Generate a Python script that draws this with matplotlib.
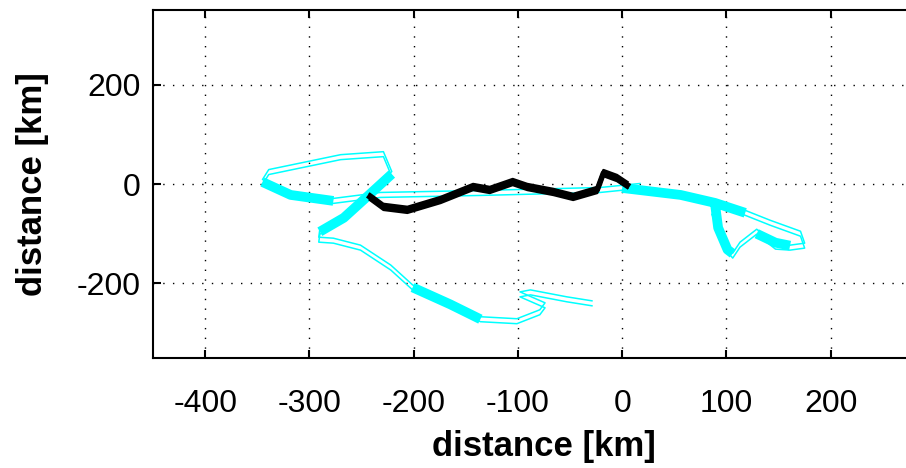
import numpy as np
import matplotlib.pyplot as plt

# cyan track, west part (km)
west_x = [17, -21, -136, -232, -277, -318, -345, -339, -270, -229, -221, -246, -267,
          -290, -291, -277, -251, -222, -201, -165, -136, -101, -79, -74, -98, -88, -53, -29]
west_y = [-4, -12, -18, -22, -34, -22, 4, 24, 54, 60, 20, -28, -68,
          -96, -112, -114, -128, -168, -208, -242, -272, -276, -258, -244, -222, -218, -232, -240]

# cyan track, east part (km)
east_x = [0, 56, 89, 118, 142, 171, 175, 161, 147, 129, 113, 106, 101, 92, 86]
east_y = [-8, -22, -38, -58, -78, -100, -124, -128, -126, -96, -122, -144, -132, -88, -56]

# dense (overlapping) stretches of the cyan track
thick_x = [-277, -318, -345, np.nan, -221, -246, -267, -290, np.nan, -201, -165, -136, np.nan,
           0, 56, 89, 118, np.nan, 89, 92, 101, 106, np.nan, 129, 147, 161]
thick_y = [-34, -22, 4, np.nan, 20, -28, -68, -96, np.nan, -208, -242, -272, np.nan,
           -8, -22, -38, -58, np.nan, -40, -88, -132, -140, np.nan, -100, -118, -124]

# black track (km)
black_x = [-242, -229, -206, -174, -143, -127, -105, -91, -66, -47, -24, -18, -5, 5]
black_y = [-26, -46, -52, -32, -6, -12, 4, -6, -16, -26, -12, 22, 12, -2]

xticks = [-400, -300, -200, -100, 0, 100, 200]
yticks = [-200, 0, 200]

plt.rcParams['font.family'] = ['Liberation Sans', 'DejaVu Sans']
plt.rcParams['axes.unicode_minus'] = False
fig = plt.figure(figsize=(9.06, 4.68), dpi=100)
ax = fig.add_axes([153 / 906, 110 / 468, 782 / 906, 348 / 468])

cyan = '#00ffff'
for d in (-5, 5):
    ax.plot(west_x, np.array(west_y) + d, color=cyan, lw=1.1)
    ax.plot(east_x, np.array(east_y) + d, color=cyan, lw=1.1)
ax.plot(thick_x, thick_y, color=cyan, lw=7, solid_capstyle='butt')

for d in (-6, 6):
    ax.plot(black_x, np.array(black_y) + d, color='black', lw=1.8)
ax.plot(black_x, black_y, color='black', lw=4)

ax.set_xlim(-450, 300)
ax.set_ylim(-350, 350)
ax.set_xticks(xticks)
ax.set_yticks(yticks)
ax.grid(True, color='black', linestyle=(0, (1, 6)), lw=1)
ax.tick_params(direction='in', length=6, width=1.5, top=True, labelsize=23)
ax.tick_params(axis='x', pad=22)
ax.tick_params(axis='y', pad=9)
for s in ax.spines.values():
    s.set_linewidth(1.5)
ax.set_xlabel('distance [km]', fontsize=25, fontweight='bold', labelpad=8)
ax.set_ylabel('distance [km]', fontsize=25, fontweight='bold', labelpad=20)

fig.savefig('out.png', dpi=100)
